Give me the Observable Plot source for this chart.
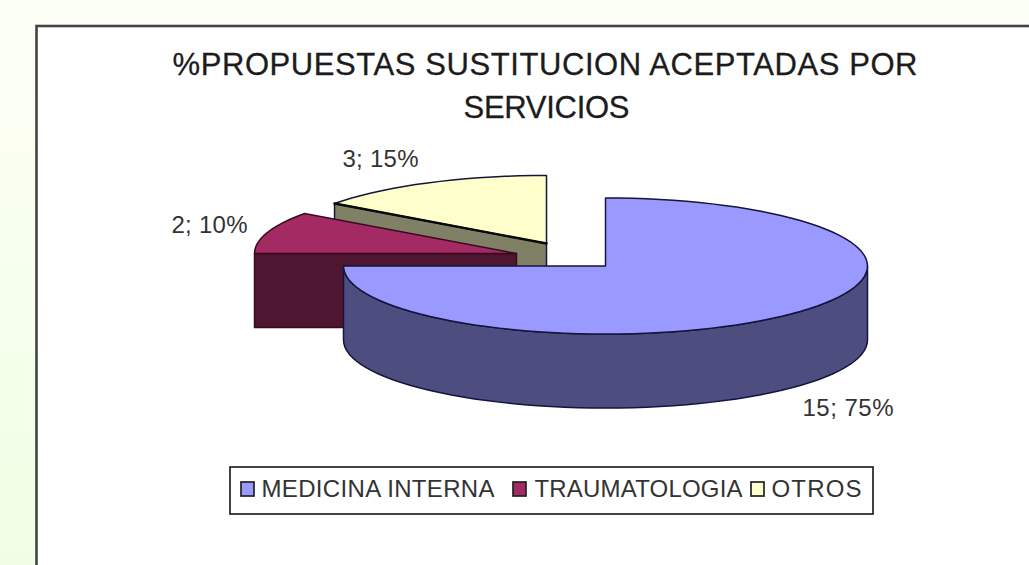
<!DOCTYPE html>
<html>
<head>
<meta charset="utf-8">
<script src="https://cdn.jsdelivr.net/npm/d3@7"></script>
<script src="https://cdn.jsdelivr.net/npm/@observablehq/plot@0.6"></script>
<style>
html,body{margin:0;padding:0;width:1029px;height:565px;overflow:hidden;background:linear-gradient(180deg,#fcfff6 0%,#f0ffe4 100%);}
</style>
</head>
<body>
<div id="chart"></div>
<script>
const categories = ["MEDICINA INTERNA", "TRAUMATOLOGIA", "OTROS"];
const values = [15, 2, 3];
const titleLines = ["%PROPUESTAS SUSTITUCION ACEPTADAS POR", "SERVICIOS"];
const topColors = ["#9999ff", "#a32a63", "#ffffcc"];
const sideColors = ["#4d4d80", "#4f1631", "#808066"];

const W = 1029, H = 565;
const rx = 262, ry = 68, depth = 74;
// exploded slice centres, in the image's own coordinate frame
const centres = [[605, 265.5], [516, 253], [546, 243]];
const total = d3.sum(values);
const ink = "#14143c";

// angles clockwise from 12 o'clock, in degrees
let acc = 0;
const slices = values.map((v, i) => {
  const a0 = acc / total * 360; acc += v; const a1 = acc / total * 360;
  return {i, v, a0, a1, c: centres[i]};
});
const pt = (s, a, dy = 0) => {
  const t = a * Math.PI / 180;
  return {x: s.c[0] + rx * Math.sin(t), y: s.c[1] - ry * Math.cos(t) + dy};
};
const arc = (s, a0, a1, dy = 0) => {
  const n = Math.max(2, Math.ceil(Math.abs(a1 - a0) / 3));
  return d3.range(n + 1).map(k => pt(s, a0 + (a1 - a0) * k / n, dy));
};
const topFace = s => {
  const c = {x: s.c[0], y: s.c[1]};
  return [c, ...arc(s, s.a0, s.a1), c];
};
const poly = (pts, fill, stroke = ink, strokeWidth = 1.5) =>
  Plot.line(pts, {x: "x", y: "y", fill, stroke, strokeWidth, strokeLinejoin: "round"});

const sides = {
  outer0: s => {
    const up = arc(s, 90, 270), down = arc(s, 270, 90, depth);
    return [...up, ...down, up[0]];
  },
  cut: (s, a) => {
    const p = pt(s, a), c = {x: s.c[0], y: s.c[1]};
    return [p, c, {x: c.x, y: c.y + depth}, {x: p.x, y: p.y + depth}, p];
  }
};

const [blue, red, yellow] = slices;
const legendItems = [
  {x: 241, tx: 261},
  {x: 513, tx: 534},
  {x: 751, tx: 771}
].map((d, i) => ({...d, label: categories[i], fill: topColors[i]}));

const labels = [
  {x: 847.5, y: 408, s: blue},
  {x: 209, y: 225, s: red},
  {x: 380, y: 158.5, s: yellow}
].map(d => ({...d, text: `${d.s.v}; ${Math.round(d.s.v / total * 100)}%`}));

// rendered text widths
const fitWidths = new Map([
  [titleLines[0], 745], [titleLines[1], 166],
  [categories[0], 233], [categories[1], 208], [categories[2], 90],
  [labels[0].text, 91], [labels[1].text, 76], [labels[2].text, 76]
]);

const font = "Liberation Sans";
const chart = Plot.plot({
  width: W, height: H,
  margin: 0,
  x: {domain: [0, W], range: [0, W], axis: null},
  y: {domain: [0, H], range: [0, H], axis: null},
  style: {background: "transparent", fontFamily: font},
  marks: [
    Plot.rect([{x1: 36.5, x2: W + 4, y1: 26, y2: H + 4}], {x1: "x1", x2: "x2", y1: "y1", y2: "y2", fill: "white", stroke: "#444", strokeWidth: 2.6}),
    Plot.text(titleLines, {x: (d, i) => i ? 546 : 544.5, y: (d, i) => 65 + i * 43, text: d => d, fontSize: 31, fill: "#1c1c1c", stroke: "#1c1c1c", strokeWidth: 0.3, fontFamily: font}),
    poly(sides.cut(yellow, yellow.a0), sideColors[2]),
    poly(topFace(yellow), topColors[2]),
    Plot.line([pt(yellow, yellow.a0), {x: yellow.c[0], y: yellow.c[1]}], {x: "x", y: "y", stroke: "#0a0a0a", strokeWidth: 2.4}),
    poly([pt(red, 270), {x: red.c[0], y: red.c[1]}, {x: red.c[0], y: red.c[1] + depth}, {x: pt(red, 270).x, y: red.c[1] + depth}, pt(red, 270)], sideColors[1], "#3a0a20"),
    poly(topFace(red), topColors[1], "#3a0a20"),
    poly(sides.outer0(blue), sideColors[0]),
    poly(topFace(blue), topColors[0]),
    Plot.text(labels, {x: "x", y: "y", text: "text", fontSize: 24, fill: "#333", fontFamily: font}),
    Plot.rect([{x1: 230, x2: 873, y1: 467, y2: 514}], {x1: "x1", x2: "x2", y1: "y1", y2: "y2", fill: "white", stroke: "#222", strokeWidth: 1.7}),
    Plot.rect(legendItems, {x1: "x", x2: d => d.x + 13, y1: 482, y2: 496, fill: "fill", stroke: "#222", strokeWidth: 1.7}),
    Plot.text(legendItems, {x: "tx", y: 489, text: "label", textAnchor: "start", fontSize: 24, fill: "#333", fontFamily: font})
  ]
});
d3.select(chart).selectAll("text").each(function () {
  const w = fitWidths.get(this.textContent);
  if (w) this.setAttribute("textLength", w);
});
document.getElementById("chart").appendChild(chart);
</script>
</body>
</html>
